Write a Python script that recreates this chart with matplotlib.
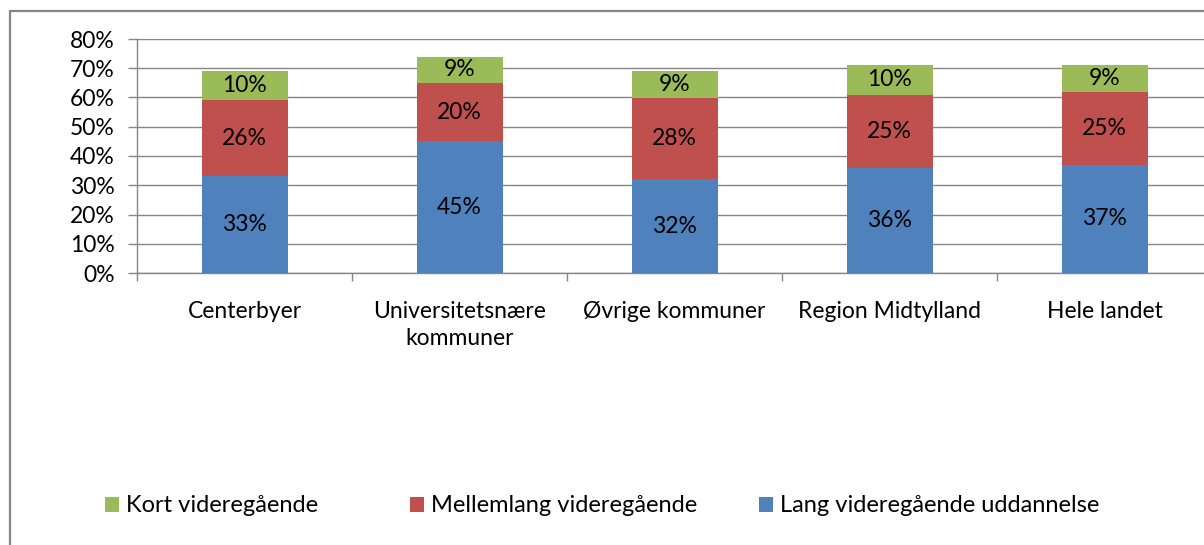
import matplotlib
matplotlib.use("Agg")
import matplotlib.pyplot as plt
from matplotlib.patches import Rectangle, Patch
import numpy as np

categories = ["Centerbyer", "Universitetsnære\nkommuner", "Øvrige kommuner", "Region Midtylland", "Hele landet"]
lang = [33, 45, 32, 36, 37]
mellemlang = [26, 20, 28, 25, 25]
kort = [10, 9, 9, 10, 9]
series_names = ["Kort videregående", "Mellemlang videregående", "Lang videregående uddannelse"]
yticks = [0, 10, 20, 30, 40, 50, 60, 70, 80]

c_blue = "#4F81BD"
c_red = "#C0504D"
c_green = "#9BBB59"
gray = "#868686"

plt.rcParams['font.family'] = ['Lato', 'DejaVu Sans']
FS = 16.5
FS_LEG = 17

W, H = 1204, 545
fig = plt.figure(figsize=(W / 100, H / 100), dpi=100)
fig.patch.set_facecolor("white")

# outer frame
fig.patches.append(Rectangle((10 / W, -0.1), 1.2, 1 - 11 / H + 0.1, transform=fig.transFigure,
                             fill=False, edgecolor=gray, linewidth=1.6, zorder=0))

left = 137 / W
cat_w = 215 / W
ax = fig.add_axes([left, 1 - 273 / H, cat_w * 5, (273 - 39) / H])

x = np.arange(len(categories))
bw = 86 / 215
lang_a = np.array(lang)
mel_a = np.array(mellemlang)
kort_a = np.array(kort)
b1 = ax.bar(x, lang_a, bw, color=c_blue, zorder=3)
b2 = ax.bar(x, mel_a, bw, bottom=lang_a, color=c_red, zorder=3)
b3 = ax.bar(x, kort_a, bw, bottom=lang_a + mel_a, color=c_green, zorder=3)

for bars, vals in ((b1, lang_a), (b2, mel_a), (b3, kort_a)):
    for rect, v in zip(bars, vals):
        ax.text(rect.get_x() + rect.get_width() / 2, rect.get_y() + rect.get_height() / 2,
                f"{v}%", ha="center", va="center", fontsize=FS, color="black", zorder=4)

ax.set_xlim(-0.5, len(categories) - 0.5)
ax.set_ylim(0, 80)
ax.set_yticks(yticks)
ax.set_yticklabels([f"{v}%" for v in yticks], fontsize=FS)
ax.set_xticks(x)
ax.set_xticklabels(categories, fontsize=FS, linespacing=1.35)
ax.set_xticks(np.arange(len(categories) + 1) - 0.5, minor=True)
ax.tick_params(axis="x", which="major", length=0, pad=20)
ax.tick_params(axis="x", which="minor", length=6, color=gray, width=1)
ax.tick_params(axis="y", length=6.5, color=gray, width=1, pad=9.5)

ax.yaxis.grid(True, color=gray, linewidth=1, zorder=0)
ax.set_axisbelow(True)
for s in ("top", "right"):
    ax.spines[s].set_visible(False)
for s in ("left", "bottom"):
    ax.spines[s].set_color(gray)
    ax.spines[s].set_linewidth(1)

# legend entries
leg_x = [105, 410, 759]
colors = [c_green, c_red, c_blue]
for name, col, lx in zip(series_names, colors, leg_x):
    lg = fig.legend(handles=[Patch(facecolor=col, edgecolor="none")], labels=[name],
                    loc="center left", bbox_to_anchor=(lx / W, 1 - 506 / H),
                    frameon=False, fontsize=FS_LEG, borderpad=0, borderaxespad=0,
                    handlelength=0.6, handleheight=0.6, handletextpad=0.3)

fig.savefig("out.png", dpi=100, facecolor="white")
